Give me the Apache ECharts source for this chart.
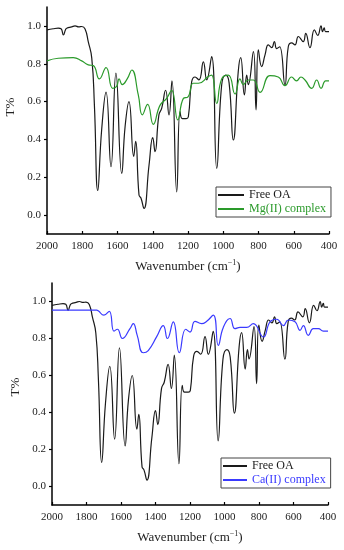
<!DOCTYPE html>
<html>
<head>
<meta charset="utf-8">
<script src="https://cdn.jsdelivr.net/npm/echarts@6/dist/echarts.min.js"></script>
<style>html,body{margin:0;padding:0;background:#fff}#c{width:344px;height:550px}</style>
</head>
<body>
<div id="c"></div>
<script>
// Free OA (same spectrum in both panels)
var freeWn = [2000,1965,1936,1920,1907,1895,1888,1860,1841,1820,1803,1784,1766,1746,1731,1712,1690,1665,1637,1609,1576,1557,1535,1508,1497,1478,1467,1450,1421,1400,1387,1365,1349,1327,1308,1291,1264,1245,1232,1210,1198,1179,1160,1138,1113,1094,1066,1037,1009,986,967,943,915,901,880,867,858,829,814,801,782,763,744,725,710,697,680,650,631,612,593,574,546,532,508,483,464,445,437,427,420,400];
var freeT  = [0.979,0.985,0.988,0.985,0.952,0.98,0.988,0.995,1.0,0.995,0.997,0.984,0.917,0.83,0.58,0.13,0.45,0.65,0.256,0.75,0.22,0.467,0.60,0.31,0.39,0.106,0.09,0.035,0.265,0.41,0.335,0.53,0.565,0.66,0.53,0.71,0.123,0.547,0.51,0.51,0.52,0.705,0.73,0.715,0.81,0.715,0.838,0.247,0.688,0.74,0.70,0.397,0.758,0.832,0.635,0.74,0.69,0.864,0.556,0.873,0.785,0.847,0.90,0.885,0.917,0.88,0.89,0.688,0.89,0.91,0.90,0.944,0.917,0.961,0.885,0.979,0.95,1.0,0.97,0.99,0.97,0.97];
// Mg(II) complex
var mgWn = [2000,1936,1851,1803,1766,1737,1703,1665,1627,1605,1591,1573,1545,1519,1482,1459,1429,1397,1359,1321,1293,1258,1226,1200,1170,1141,1085,1066,1037,1009,971,933,905,886,858,829,791,735,688,650,612,584,559,536,498,470,445,419,400];
var mgT  = [0.815,0.829,0.832,0.815,0.794,0.79,0.72,0.78,0.67,0.68,0.72,0.69,0.72,0.767,0.635,0.53,0.585,0.48,0.58,0.617,0.66,0.503,0.617,0.625,0.697,0.697,0.732,0.74,0.59,0.72,0.74,0.64,0.72,0.69,0.714,0.714,0.649,0.737,0.73,0.684,0.73,0.71,0.73,0.714,0.67,0.714,0.67,0.71,0.71];
// Ca(II) complex
var caWn = [2000,1741,1732,1699,1668,1641,1621,1592,1548,1529,1506,1471,1442,1393,1355,1331,1297,1262,1225,1200,1171,1132,1103,1065,1036,1007,968,939,910,872,833,775,736,697,659,630,591,562,543,514,485,456,427,400];
var caT  = [0.953,0.953,0.95,0.926,0.947,0.84,0.85,0.80,0.853,0.88,0.817,0.723,0.735,0.81,0.87,0.80,0.89,0.723,0.85,0.835,0.893,0.88,0.893,0.926,0.763,0.86,0.908,0.853,0.86,0.86,0.88,0.808,0.89,0.904,0.87,0.9,0.89,0.844,0.87,0.817,0.853,0.853,0.84,0.84];
var yTicks = [0, 0.2, 0.4, 0.6, 0.8, 1.0];
var xMin = 400, xMax = 2000, xStep = 200;
var yMin = -0.1, yMax = 1.1;

function pairs(a, b) { return a.map(function (v, i) { return [v, b[i]]; }); }

var SERIF = '"Liberation Serif", "DejaVu Serif", serif';
var BLACK = '#1a1a1a', GREEN = '#2a9a2a', BLUE = '#3a3aff';

function xAxis(gi) {
  return {
    gridIndex: gi, type: 'value', inverse: true, min: xMin, max: xMax, interval: xStep,
    axisLine: { show: true, onZero: false, lineStyle: { color: '#000', width: 1.5 } },
    axisTick: { show: true, inside: true, length: 3, lineStyle: { color: '#000', width: 1.2 } },
    axisLabel: { margin: 7, color: '#222', fontFamily: SERIF, fontSize: 11,
      formatter: function (v) { return String(v); } },
    splitLine: { show: false },
    name: '{a|Wavenumber (cm}{s|\u22121}{a|)}',
    nameLocation: 'middle', nameGap: 25,
    nameTextStyle: {
      color: '#222', fontFamily: SERIF, fontSize: 13,
      rich: {
        a: { fontFamily: SERIF, fontSize: 13, lineHeight: 16, color: '#222' },
        s: { fontFamily: SERIF, fontSize: 8, lineHeight: 10, verticalAlign: 'top', color: '#222' }
      }
    }
  };
}
function yAxis(gi) {
  return {
    gridIndex: gi, type: 'value', min: yMin, max: yMax,
    axisLine: { show: true, onZero: false, lineStyle: { color: '#000', width: 1.5 } },
    axisTick: { show: true, inside: false, length: 3, customValues: yTicks, lineStyle: { color: '#000', width: 1.2 } },
    axisLabel: { margin: 6, color: '#222', fontFamily: SERIF, fontSize: 11, customValues: yTicks,
      formatter: function (v) { return Number(v).toFixed(1); } },
    splitLine: { show: false }
  };
}
function lineSeries(name, gi, data, color) {
  return {
    name: name, type: 'line', xAxisIndex: gi, yAxisIndex: gi, data: data,
    showSymbol: false, symbol: 'none', smooth: 0.5, animation: false,
    lineStyle: { color: color, width: 1.2 }, itemStyle: { color: color }
  };
}
function legend(left, top, names, colors, itemW) {
  return {
    orient: 'vertical', left: left, top: top, itemWidth: itemW, itemHeight: 2, itemGap: 2,
    icon: 'rect', borderColor: '#444', borderWidth: 1, borderRadius: 0, padding: [2, 5, 2, 2],
    selectedMode: false,
    textStyle: { fontFamily: SERIF, fontSize: 12 },
    data: names.map(function (n, i) { return { name: n, textStyle: { color: colors[i] } }; })
  };
}

var chart = echarts.init(document.getElementById('c'), null, { renderer: 'canvas' });
chart.setOption({
  animation: false,
  backgroundColor: '#fff',
  grid: [
    { left: 47, top: 7, width: 282, height: 227, containLabel: false },
    { left: 52, top: 283, width: 276, height: 222, containLabel: false }
  ],
  xAxis: [xAxis(0), xAxis(1)],
  yAxis: [yAxis(0), yAxis(1)],
  legend: [
    legend(216, 187, ['Free OA', 'Mg(II) complex'], [BLACK, GREEN], 26),
    legend(221, 458, ['Free OA ', 'Ca(II) complex'], [BLACK, BLUE], 24)
  ],
  graphic: [
    { type: 'text', x: 11, y: 107, rotation: Math.PI / 2,
      style: { text: 'T%', fill: '#222', font: '13px ' + SERIF, align: 'center', verticalAlign: 'middle' } },
    { type: 'text', x: 16, y: 387, rotation: Math.PI / 2,
      style: { text: 'T%', fill: '#222', font: '13px ' + SERIF, align: 'center', verticalAlign: 'middle' } }
  ],
  series: [
    lineSeries('Free OA', 0, pairs(freeWn, freeT), BLACK),
    lineSeries('Mg(II) complex', 0, pairs(mgWn, mgT), GREEN),
    lineSeries('Free OA ', 1, pairs(freeWn, freeT), BLACK),
    lineSeries('Ca(II) complex', 1, pairs(caWn, caT), BLUE)
  ]
});
</script>
</body>
</html>
